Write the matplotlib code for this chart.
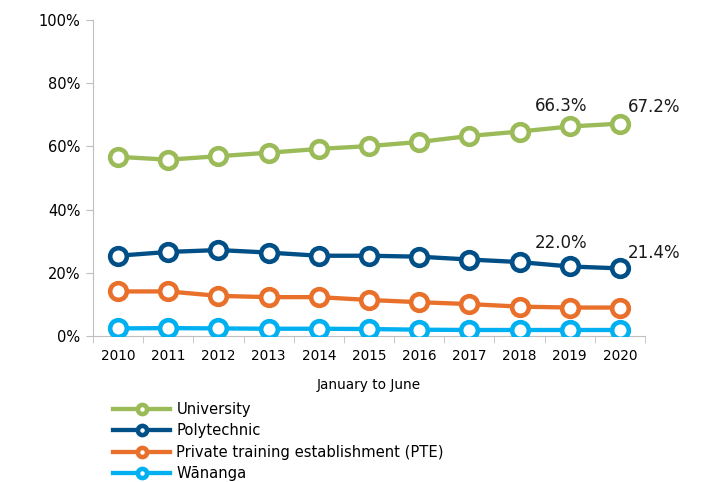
import numpy as np
import matplotlib
matplotlib.use('Agg')
import matplotlib.pyplot as plt
from matplotlib.ticker import FixedLocator, NullFormatter

plt.rcParams.update({'font.family': 'DejaVu Sans', 'font.size': 10})

years = [2010, 2011, 2012, 2013, 2014, 2015, 2016, 2017, 2018, 2019, 2020]
university = [56.7, 55.8, 56.9, 58.0, 59.2, 60.1, 61.4, 63.3, 64.7, 66.3, 67.2]
polytechnic = [25.4, 26.6, 27.2, 26.4, 25.4, 25.4, 25.1, 24.2, 23.4, 22.0, 21.4]
pte = [14.1, 14.1, 12.7, 12.3, 12.3, 11.4, 10.7, 10.1, 9.3, 9.0, 9.0]
wananga = [2.4, 2.5, 2.4, 2.3, 2.3, 2.2, 2.0, 1.9, 1.9, 1.9, 1.9]

series = [
    ('University', university, '#9bbb59'),
    ('Polytechnic', polytechnic, '#004f86'),
    ('Private training establishment (PTE)', pte, '#e8702a'),
    ('W\u0101nanga', wananga, '#00b0f0'),
]

fig = plt.figure(figsize=(7.10, 4.82), dpi=100)
ax = fig.add_axes([93 / 710, 1 - 336 / 482, (645 - 93) / 710, (336 - 20) / 482])

x = np.arange(len(years))
for name, vals, col in series:
    ax.plot(x, vals, color=col, lw=3.1, marker='o', ms=12, mfc='white', mec=col, mew=3.3,
            label=name, zorder=3)

ax.set_xlim(-0.5, len(years) - 0.5)
ax.set_ylim(0, 100)
ax.set_yticks(np.arange(0, 101, 20))
ax.set_yticklabels([f'{v}%' for v in range(0, 101, 20)], fontsize=10.5)
ax.set_xticks(x)
ax.set_xticklabels([str(y) for y in years], fontsize=9.8)
ax.tick_params(axis='x', length=0, pad=9)
ax.xaxis.set_minor_locator(FixedLocator(np.arange(-0.5, len(years), 1.0)))
ax.xaxis.set_minor_formatter(NullFormatter())
ax.tick_params(axis='x', which='minor', length=5, color='#bfbfbf')
ax.tick_params(axis='y', length=5, color='#bfbfbf', pad=4)
for s in ['top', 'right']:
    ax.spines[s].set_visible(False)
for s in ['left', 'bottom']:
    ax.spines[s].set_color('#bfbfbf')
ax.set_xlabel('January to June', fontsize=9.8, labelpad=11)

# end labels for university and polytechnic
for vals, dy2 in ((university, 15), (polytechnic, 17)):
    ax.annotate(f'{vals[-2]:.1f}%', (x[-2], vals[-2]), xytext=(-6, dy2), textcoords='offset points',
                ha='center', va='center', fontsize=12, color='#1a1a1a')
for vals, dy1 in ((university, 12), (polytechnic, 11)):
    ax.annotate(f'{vals[-1]:.1f}%', (x[-1], vals[-1]), xytext=(6, dy1), textcoords='offset points',
                ha='left', va='center', fontsize=12, color='#1a1a1a')

fig.legend(loc='upper left', bbox_to_anchor=(113 / 710, 1 - 402 / 482), frameon=False,
           handlelength=3.9, handletextpad=0.4, labelspacing=0.43, borderpad=0, borderaxespad=0,
           markerscale=0.55, fontsize=10.6)

fig.savefig('out.png', dpi=100)
